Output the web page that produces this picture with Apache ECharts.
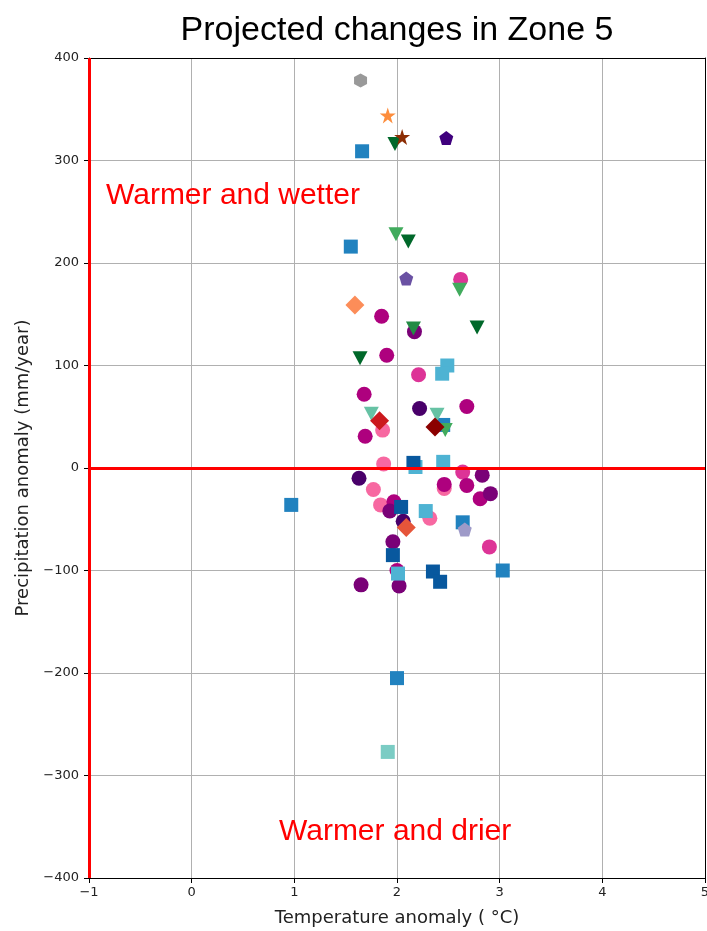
<!DOCTYPE html>
<html>
<head>
<meta charset="utf-8">
<script src="https://cdn.jsdelivr.net/npm/echarts@6/dist/echarts.min.js"></script>
<style>
html,body{margin:0;padding:0;background:#fff;}
#chart{width:707px;height:931px;}
</style>
</head>
<body>
<div id="chart"></div>
<script>
// ---- data: [temperature anomaly (°C), precipitation anomaly (mm/year)] ----
const circPink      = [[1.87,4],[1.77,-21],[2.46,-20],[1.84,-36],[2.32,-49],[1.86,37]];
const circMagenta   = [[2.62,184],[2.21,91],[2.64,-4],[2.90,-77]];
const circRedPurple = [[1.85,148],[1.90,110],[1.68,72],[2.68,60],[1.69,31],[2.46,-16],[2.68,-17],[2.81,-30],[1.97,-33],[2.00,-100]];
const circPurple    = [[2.17,133],[2.83,-7],[2.91,-25],[1.93,-42],[1.96,-72],[1.65,-114],[2.02,-115]];
const circDark      = [[2.22,58],[1.63,-10],[2.06,-52]];

const sqLight = [[2.49,100],[2.44,92],[2.45,6],[2.18,1],[2.28,-42],[2.01,-103]];
const sqTeal  = [[1.91,-277]];
const sqBlue  = [[1.66,309],[1.55,216],[0.97,-36],[2.45,42],[2.64,-53],[3.03,-100],[2.00,-205]];
const sqNavy  = [[2.16,5],[2.04,-38],[1.96,-85],[2.35,-101],[2.42,-111]];

const triDark  = [[1.98,316],[2.11,221],[1.64,107],[2.78,137]];
const triGreen = [[2.16,136]];
const triMed   = [[1.99,228],[2.61,174],[2.47,37]];
const triLight = [[1.75,53],[2.39,52]];

const diaOrange    = [[1.59,159]];
const diaRed       = [[1.83,46]];
const diaDarkRed   = [[2.37,40]];
const diaOrangeRed = [[2.09,-58]];

const pentDark   = [[2.48,322]];
const pentPurple = [[2.09,185]];
const pentLight  = [[2.66,-60]];

const starOrange = [[1.91,344]];
const starBrown  = [[2.05,323]];

const hexGrey = [[1.645,378]];

const xTicks = [-1, 0, 1, 2, 3, 4, 5];
const yTicks = [-400, -300, -200, -100, 0, 100, 200, 300, 400];
const refX = -1;   // vertical reference line
const refY = 0;    // horizontal reference line

const titleText = 'Projected changes in Zone 5';
const xName = 'Temperature anomaly ( \u00B0C)';
const yName = 'Precipitation anomaly (mm/year)';
const labelWet = 'Warmer and wetter';
const labelDry = 'Warmer and drier';

// ---- symbols ----
const SYM = {
  circle: 'circle',
  square: 'rect',
  tri: 'path://M-10,-10 L10,-10 L0,10 Z',
  diamond: 'diamond',
  pent: 'path://M0,-10 L9.51,-3.09 L5.88,8.09 L-5.88,8.09 L-9.51,-3.09 Z',
  star: 'path://M0,-10 L2.24,-3.09 L9.51,-3.09 L3.63,1.18 L5.88,8.09 L0,3.82 L-5.88,8.09 L-3.63,1.18 L-9.51,-3.09 L-2.24,-3.09 Z',
  hex: 'path://M0,-10 L8.66,-5 L8.66,5 L0,10 L-8.66,5 L-8.66,-5 Z'
};

function sc(name, data, symbol, size, color) {
  return {
    name: name, type: 'scatter', data: data, symbol: symbol, symbolSize: size,
    itemStyle: {color: color, opacity: 1},
    emphasis: {disabled: true}, z: 3
  };
}

const series = [
  sc('circPink', circPink, SYM.circle, 15, '#f768a1'),
  sc('circMagenta', circMagenta, SYM.circle, 15, '#dd3497'),
  sc('circRedPurple', circRedPurple, SYM.circle, 15, '#ae017e'),
  sc('circPurple', circPurple, SYM.circle, 15, '#7a0177'),
  sc('circDark', circDark, SYM.circle, 15, '#49006a'),
  sc('sqLight', sqLight, SYM.square, 14, '#4eb3d3'),
  sc('sqTeal', sqTeal, SYM.square, 14, '#7bccc4'),
  sc('sqBlue', sqBlue, SYM.square, 14, '#2182bf'),
  sc('sqNavy', sqNavy, SYM.square, 14, '#08589e'),
  sc('triLight', triLight, SYM.tri, [15,14], '#66c2a4'),
  sc('triMed', triMed, SYM.tri, [15,14], '#41ab5d'),
  sc('triGreen', triGreen, SYM.tri, [15,14], '#238b45'),
  sc('triDark', triDark, SYM.tri, [15,14], '#00682a'),
  sc('diaOrange', diaOrange, SYM.diamond, 19, '#fc8d59'),
  sc('diaRed', diaRed, SYM.diamond, 19, '#cb181d'),
  sc('diaDarkRed', diaDarkRed, SYM.diamond, 19, '#8b0000'),
  sc('diaOrangeRed', diaOrangeRed, SYM.diamond, 19, '#e6553a'),
  sc('pentDark', pentDark, SYM.pent, 14, '#3f007d'),
  sc('pentPurple', pentPurple, SYM.pent, 14, '#6a51a3'),
  sc('pentLight', pentLight, SYM.pent, 14, '#9e9ac8'),
  sc('starOrange', starOrange, SYM.star, 16, '#fd8d3c'),
  sc('starBrown', starBrown, SYM.star, 16, '#8c2d04'),
  sc('hexGrey', hexGrey, SYM.hex, [13,14], '#999999'),
  {
    name: 'reference', type: 'scatter', data: [], z: 10,
    markLine: {
      silent: true, symbol: 'none', animation: false,
      label: {show: false},
      lineStyle: {color: '#ff0000', width: 3, type: 'solid'},
      data: [{xAxis: refX}, {yAxis: refY}]
    }
  }
];

const minus = v => String(v).replace('-', '\u2212');
const tickFont = {fontFamily: 'DejaVu Sans', fontSize: 13, color: '#222'};

const chart = echarts.init(document.getElementById('chart'), null, {renderer: 'canvas'});
chart.setOption({
  animation: false,
  backgroundColor: '#ffffff',
  title: {
    text: titleText, left: 392, top: 9, textAlign: 'center',
    textStyle: {fontFamily: 'Liberation Sans', fontSize: 34, fontWeight: 'normal', color: '#000'}
  },
  grid: {left: 89, top: 58, width: 616, height: 820, containLabel: false, outerBoundsMode: 'none'},
  xAxis: [{
    type: 'value', min: xTicks[0], max: xTicks[xTicks.length - 1], interval: 1,
    position: 'bottom',
    name: xName, nameLocation: 'middle', nameGap: 31,
    nameTextStyle: {fontFamily: 'DejaVu Sans', fontSize: 18, color: '#222'},
    axisLine: {show: true, onZero: false, lineStyle: {color: '#000', width: 1}},
    axisTick: {show: true, length: 5, inside: false, lineStyle: {color: '#000'}},
    axisLabel: Object.assign({margin: 8, formatter: minus}, tickFont),
    splitLine: {show: true, lineStyle: {color: '#b0b0b0', width: 1}}
  }, {
    type: 'value', min: xTicks[0], max: xTicks[xTicks.length - 1], interval: 1,
    position: 'top',
    axisLine: {show: true, onZero: false, lineStyle: {color: '#000', width: 1}},
    axisTick: {show: false}, axisLabel: {show: false}, splitLine: {show: false}
  }],
  yAxis: [{
    type: 'value', min: yTicks[0], max: yTicks[yTicks.length - 1], interval: 100,
    position: 'left',
    name: yName, nameLocation: 'middle', nameGap: 57,
    nameTextStyle: {fontFamily: 'DejaVu Sans', fontSize: 18, color: '#222'},
    axisLine: {show: true, onZero: false, lineStyle: {color: '#000', width: 1}},
    axisTick: {show: true, length: 5, inside: false, lineStyle: {color: '#000'}},
    axisLabel: Object.assign({margin: 10, formatter: minus}, tickFont),
    splitLine: {show: true, lineStyle: {color: '#b0b0b0', width: 1}}
  }, {
    type: 'value', min: yTicks[0], max: yTicks[yTicks.length - 1], interval: 100,
    position: 'right',
    axisLine: {show: true, onZero: false, lineStyle: {color: '#000', width: 1}},
    axisTick: {show: false}, axisLabel: {show: false}, splitLine: {show: false}
  }],
  graphic: [
    {type: 'text', left: 106, top: 181, z: 20,
     style: {text: labelWet, fill: '#ff0000', font: '30px "Liberation Sans"'}},
    {type: 'text', left: 279, top: 817, z: 20,
     style: {text: labelDry, fill: '#ff0000', font: '30px "Liberation Sans"'}}
  ],
  series: series
});
</script>
</body>
</html>
